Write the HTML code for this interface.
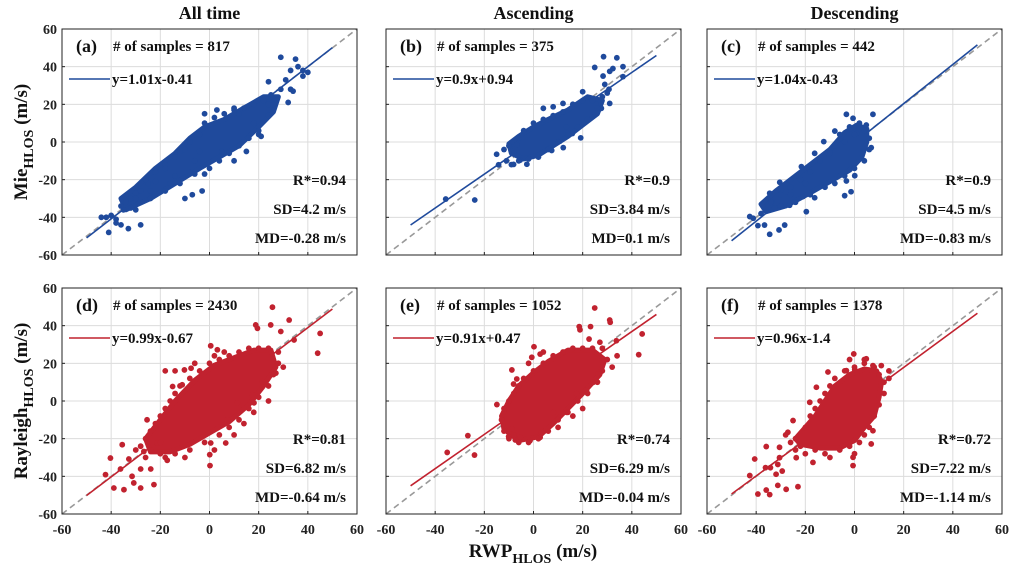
<!DOCTYPE html>
<html><head><meta charset="utf-8">
<style>
html,body{margin:0;padding:0;background:#fff;}
svg{display:block;font-family:"Liberation Serif",serif;font-weight:bold;}
</style></head>
<body>
<svg id="fig" width="1010" height="572" viewBox="0 0 1010 572" xmlns="http://www.w3.org/2000/svg"></svg>
<script>
// ---- Data (data units, m/s) ----
const tickValues = [-60,-40,-20,0,20,40,60];
const columnTitles = ["All time","Ascending","Descending"];
const panelLabels = ["(a)","(b)","(c)","(d)","(e)","(f)"];
const sampleCounts = [817,375,442,2430,1052,1378];
const fitSlopes = [1.01,0.9,1.04,0.99,0.91,0.96];
const fitIntercepts = [-0.41,0.94,-0.43,-0.67,0.47,-1.4];
const fitLabels = ["y=1.01x-0.41","y=0.9x+0.94","y=1.04x-0.43","y=0.99x-0.67","y=0.91x+0.47","y=0.96x-1.4"];
const rValues = ["0.94","0.9","0.9","0.81","0.74","0.72"];
const sdValues = ["4.2","3.84","4.5","6.82","6.29","7.22"];
const mdValues = ["-0.28","0.1","-0.83","-0.64","-0.04","-1.14"];

const coreA = [[-34,-36],[-24,-30],[-14,-22],[-4,-14],[4,-8],[12,-2],[20,8],[26,16],[28,24],[22,24],[14,18],[6,12],[-2,8],[-8,2],[-14,-6],[-22,-14],[-30,-24],[-36,-30]];
const pointsA = [[29,45],[35,44],[33,38],[36,40],[38,38],[40,37],[38,35],[34,27],[33,28],[29,28],[31,33],[24,32],[25,25],[32,21],[27,22],[-42,-40],[-40,-39],[-38,-41],[-36,-44],[-41,-48],[-33,-46],[-28,-44],[-38,-43],[-30,-36],[-32,-30],[-30,-27],[-22,-21],[-25,-22],[-32,-35],[-10,-30],[-7,-28],[-3,-26],[-2,-17],[-18,-12],[-12,-5],[-2,15],[3,17],[5,-5],[10,-10],[15,-5],[20,4],[21,3],[18,10],[12,15],[24,20],[10,18],[-6,-10],[-4,-5],[-8,-16],[-14,-18],[-16,-22],[-24,-26],[-35,-36],[-44,-40]];
const edgeA = [[-26,-20],[-22,-16],[-18,-14],[-14,-8],[-10,-4],[-8,0],[-4,4],[-2,10],[2,13],[6,15],[10,17],[14,18],[18,20],[22,22],[-24,-30],[-18,-26],[-12,-22],[-6,-17],[0,-14],[4,-10],[8,-6],[12,-2],[16,2],[20,6],[24,14],[26,20],[-34,-32],[-30,-30],[-36,-34],[-28,-26]];
const coreB = [[-9,-6],[-4,-9],[2,-7],[8,-2],[14,3],[20,9],[26,15],[28,22],[22,24],[14,17],[6,12],[0,8],[-6,3],[-10,-1]];
const pointsB = [[28.5,45.3],[33.9,44.7],[36.4,40],[32.3,39],[31,37.5],[36.4,34.7],[24.9,39.6],[28.3,35],[29,30.6],[30.7,28],[20,26.7],[31,20.5],[27.6,17.9],[4,17.9],[8,18.7],[12,20.5],[13.4,8],[15.8,4.5],[19.2,2.2],[10.8,0.5],[12.1,-3],[7.4,-4.5],[-15,-6.5],[-14.2,-12.1],[-8.1,-11.9],[-5.4,-9.6],[-2.7,-11.8],[-6.8,-1.5],[-35.7,-30.3],[-23.9,-30.8]];
const edgeB = [[-8,-6],[-10,-2],[-6,2],[-4,6],[0,10],[4,12],[8,14],[12,16],[16,20],[20,22],[24,22],[26,18],[22,12],[18,8],[14,4],[10,0],[6,-4],[2,-8],[-2,-9],[-6,-10],[-12,-4],[-9,-12],[-11,-10],[28,24],[30,26]];
const coreC = [[-36,-37],[-28,-34],[-18,-27],[-10,-21],[-2,-15],[3,-8],[5,0],[5,7],[1,9],[-4,5],[-10,-4],[-16,-10],[-24,-18],[-32,-26],[-38,-33]];
const pointsC = [[-3.3,14.7],[-0.6,12.6],[7.5,14.7],[4.8,9],[-8,5.8],[0.8,4.5],[6.8,-3],[-12.5,0.2],[-16.2,-6],[-21.6,-13.1],[-16.2,-29.6],[-4,-28.5],[-1.4,-26.4],[0.1,-17.9],[-3.3,-20.7],[-30.4,-21.4],[-34.5,-27.2],[-33.8,-31.6],[-42.6,-39.6],[-41.2,-40.5],[-39.3,-44.4],[-36.6,-44.1],[-34.5,-49],[-30.7,-46.7],[-28.4,-44.1],[-32.5,-35],[-26.4,-33.6],[-27.8,-26.4],[-21,-29],[-19.6,-37]];
const edgeC = [[-36,-36],[-34,-32],[-30,-28],[-26,-24],[-22,-20],[-18,-16],[-14,-10],[-10,-6],[-8,-2],[-6,4],[-2,8],[2,10],[4,6],[6,2],[6,-4],[4,-10],[0,-14],[-4,-18],[-8,-22],[-12,-24],[-18,-28],[-24,-32],[-30,-34],[-38,-38],[-26,-28],[-20,-22],[-4,0],[0,4]];
const coreD = [[-24,-27],[-16,-27],[-8,-23],[0,-17],[8,-11],[16,-2],[22,8],[27,18],[25,27],[18,27],[10,23],[2,19],[-6,11],[-14,0],[-20,-10],[-26,-20]];
const pointsD = [[25.6,49.8],[18.8,40.4],[19.5,38.6],[24.9,40.4],[29,36.9],[32.4,43],[34.4,32.4],[44,25.4],[45,35.9],[27,14.8],[21.5,10.4],[17.4,3.3],[18.1,-1],[11.3,-1],[7.3,-10],[0.5,-22.3],[0.1,-28.5],[0.2,-34.3],[6.6,-22.3],[-11.1,8.6],[-15,7.7],[-10.2,16.5],[-7.5,17.4],[0.5,29.3],[3.2,27.2],[-25.4,-10],[-21.3,-22.3],[-17.2,-31.5],[-40.3,-30.3],[-35.5,-23.2],[-42.3,-39.1],[-38.9,-46.2],[-34.8,-47.1],[-31.5,-40],[-28,-46.2],[-22.6,-44.4],[-30.8,-43.5],[-32.8,-30.8],[-36.2,-36.1],[-23.9,-36.1],[-28,-36.1],[-26.7,-26.8]];
const edgeD = [[-24,-26],[-20,-28],[-14,-28],[-8,-26],[-2,-22],[4,-18],[8,-14],[12,-10],[16,-4],[20,2],[24,8],[26,14],[28,20],[28,26],[24,28],[20,28],[16,28],[12,26],[8,24],[4,22],[0,20],[-4,16],[-8,12],[-12,8],[-14,4],[-16,0],[-18,-4],[-20,-8],[-22,-12],[-24,-16],[-26,-20],[-28,-24],[-18,-30],[-10,-30],[2,-26],[-14,16],[-18,16],[6,26],[-20,-22],[14,-12],[18,-6],[24,0],[30,18],[-6,20],[2,24],[10,-18],[-26,-30],[-30,-26]];
const coreE = [[-12,-15],[-6,-21],[2,-19],[8,-12],[14,-4],[20,4],[27,14],[29,22],[24,27],[14,27],[6,21],[0,15],[-6,8],[-10,0],[-13,-8]];
const pointsE = [[24.9,49.4],[31,43],[31.2,41.8],[23.2,39.5],[18.6,39.5],[18.9,37.8],[22.6,32.9],[27,31.2],[33.7,32],[44.2,35.6],[42.8,24.6],[26.3,14.3],[24.3,9.9],[21.6,5.8],[17.5,4.1],[13.5,-6],[8.1,-6],[3.3,-16.6],[2.7,-19.3],[-1.4,-21],[-5.4,-19.3],[-7.4,-20.7],[-10.1,-18.9],[-8.8,-14.8],[-14.9,-1.9],[-8.8,16.5],[-6.8,11.7],[-8.1,9],[0.2,28.8],[-0.7,23.2],[2.7,24.9],[-35.1,-27.3],[-26.7,-18.4],[-24,-28.7]];
const edgeE = [[-12,-16],[-10,-20],[-6,-22],[-2,-22],[2,-20],[6,-16],[10,-10],[14,-6],[18,0],[22,4],[26,10],[28,16],[30,22],[28,28],[24,28],[20,28],[16,28],[12,26],[8,24],[4,20],[0,16],[-4,12],[-6,8],[-8,4],[-10,0],[-12,-4],[-13,-10],[-8,-18],[16,-8],[20,-4],[10,-14],[-2,20],[4,26],[32,18],[34,24]];
const coreF = [[-22,-23],[-14,-25],[-6,-25],[0,-21],[4,-14],[8,-8],[10,2],[11,10],[9,16],[4,17],[-2,14],[-8,8],[-12,0],[-16,-8],[-20,-14],[-24,-20]];
const pointsF = [[-0.3,25],[4.8,22.4],[7.5,18.8],[10.9,18.8],[0.1,16.6],[-3.3,16.1],[-10.8,15.4],[-15.5,7.3],[-18.2,-0.7],[-25,-10.4],[-27.1,-16.6],[-35.9,-24.2],[-30.5,-24.6],[-40.6,-30.8],[-30.5,-30.1],[-23.7,-30.1],[-34.2,-35.4],[-29.4,-37.2],[-42.6,-39.6],[-39.3,-49.4],[-35.9,-47.3],[-34.5,-49.7],[-31.2,-44.8],[-27.8,-46.9],[-23,-45.5],[-36.2,-35.4],[-31.9,-38.9],[-0.6,-29.9],[-0.6,-34.3],[6.8,-22.8],[7.5,-15.8],[-16.9,-32.6],[-31.2,-33.7]];
const edgeF = [[-22,-24],[-24,-20],[-20,-14],[-18,-8],[-16,-4],[-14,0],[-12,4],[-10,8],[-8,12],[-4,16],[0,18],[4,20],[8,18],[10,14],[12,10],[12,4],[10,-2],[8,-8],[6,-14],[4,-18],[2,-22],[-2,-24],[-6,-26],[-12,-28],[-16,-26],[-20,-28],[-26,-22],[-28,-18],[-24,-26],[14,12],[14,16],[-2,22],[4,22],[-10,-30],[0,-28]];

const cores = [coreA,coreB,coreC,coreD,coreE,coreF];
const points = [pointsA.concat(edgeA),pointsB.concat(edgeB),pointsC.concat(edgeC),pointsD.concat(edgeD),pointsE.concat(edgeE),pointsF.concat(edgeF)];

const NS = "http://www.w3.org/2000/svg";
const svg = document.getElementById('fig');
function mk(tag, attrs, parent){
  const e = document.createElementNS(NS, tag);
  for (const k in attrs) e.setAttribute(k, attrs[k]);
  (parent||svg).appendChild(e);
  return e;
}
const colX = [62, 386, 707];
const rowY = [29, 288];
const PW = 295, PH = 226;
const colors = ["#1f4a9c","#1f4a9c","#1f4a9c","#c1222f","#c1222f","#c1222f"];

for (let p = 0; p < 6; p++) {
  const col = p % 3, row = Math.floor(p / 3);
  const x0 = colX[col], y0 = rowY[row];
  const sx = v => x0 + (v + 60) / 120 * PW;
  const sy = v => y0 + PH - (v + 60) / 120 * PH;
  const g = mk('g', {});
  
  
  const clipId = 'clip' + p;
  const cp = mk('clipPath', {id: clipId}, g);
  mk('rect', {x: x0, y: y0, width: PW, height: PH}, cp);
  tickValues.forEach(t => {
    if (t > -60 && t < 60) {
      const gl = mk('line', {x1: sx(t), x2: sx(t), y1: y0, y2: y0 + PH, stroke: '#dcdcdc', 'stroke-width': 1}, g);
      
      
      const gh = mk('line', {x1: x0, x2: x0 + PW, y1: sy(t), y2: sy(t), stroke: '#dcdcdc', 'stroke-width': 1}, g);
      
      
    }
  });
  const dg = mk('g', {'clip-path': 'url(#' + clipId + ')'}, g);
  const one = mk('line', {x1: sx(-60), y1: sy(-60), x2: sx(60), y2: sy(60), stroke: '#999', 'stroke-width': 1.6, 'stroke-dasharray': '6,4'}, dg);
  
  
  const a = fitSlopes[p], b = fitIntercepts[p];
  const fit = mk('line', {x1: sx(-50), y1: sy(a * -50 + b), x2: sx(50), y2: sy(a * 50 + b), stroke: colors[p], 'stroke-width': 1.6}, dg);
  
  
  const core = mk('polygon', {points: cores[p].map(d => sx(d[0]) + ',' + sy(d[1])).join(' '), fill: colors[p], stroke: colors[p], 'stroke-width': 5, 'stroke-linejoin': 'round'}, dg);
  
  
  points[p].forEach(d => {
    const c = mk('circle', {cx: sx(d[0]), cy: sy(d[1]), r: 2.9, fill: colors[p]}, dg);
    
    
  });
  const fr = mk('rect', {x: x0, y: y0, width: PW, height: PH, fill: 'none', stroke: '#222', 'stroke-width': 1}, g);
  
  
  tickValues.forEach(t => {
    mk('line', {x1: sx(t), x2: sx(t), y1: y0 + PH, y2: y0 + PH - 3, stroke: '#222'}, g);
    mk('line', {x1: x0, x2: x0 + 3, y1: sy(t), y2: sy(t), stroke: '#222'}, g);
    if (col === 0) {
      const yl = mk('text', {x: x0 - 5, y: sy(t) + 5, 'text-anchor': 'end', 'font-size': 14, fill: '#222'}, g);
      yl.textContent = t;
      
      
    }
    if (row === 1) {
      const xl = mk('text', {x: sx(t), y: y0 + PH + 20, 'text-anchor': 'middle', 'font-size': 14, fill: '#222'}, g);
      xl.textContent = t;
      
      
    }
  });
  const pl = mk('text', {x: x0 + 14, y: y0 + 23, 'font-size': 18, fill: '#111'}, g);
  pl.textContent = panelLabels[p];
  
  
  const ns = mk('text', {x: x0 + 51, y: y0 + 22, 'font-size': 15, fill: '#111'}, g);
  ns.textContent = '# of samples = ' + sampleCounts[p];
  
  
  const ll = mk('line', {x1: x0 + 7, x2: x0 + 48, y1: y0 + 50, y2: y0 + 50, stroke: colors[p], 'stroke-width': 1.6}, g);
  
  
  const lt = mk('text', {x: x0 + 50, y: y0 + 55, 'font-size': 15, fill: '#111'}, g);
  lt.textContent = fitLabels[p];
  
  
  const stats = ['R*=' + rValues[p], 'SD=' + sdValues[p] + ' m/s', 'MD=' + mdValues[p] + ' m/s'];
  const names = ['r-value','sd-value','md-value'];
  stats.forEach((s, i) => {
    const st = mk('text', {x: x0 + PW - 11, y: y0 + 156 + i * 29, 'text-anchor': 'end', 'font-size': 15, fill: '#111'}, g);
    st.textContent = s;
    
    
  });
}
columnTitles.forEach((t, i) => {
  const ct = mk('text', {x: colX[i] + PW / 2, y: 19, 'text-anchor': 'middle', 'font-size': 18, fill: '#111'});
  ct.textContent = t;
  
  
});
</script>
<svg width="1010" height="572" style="position:absolute;left:0;top:0" xmlns="http://www.w3.org/2000/svg">
  <text transform="translate(27,142) rotate(-90)" text-anchor="middle" font-family="Liberation Serif, serif" font-weight="bold" font-size="19" fill="#111">Mie<tspan font-size="14" dy="6">HLOS</tspan><tspan dy="-6"> (m/s)</tspan></text>
  <text transform="translate(27,401) rotate(-90)" text-anchor="middle" font-family="Liberation Serif, serif" font-weight="bold" font-size="19" fill="#111">Rayleigh<tspan font-size="14" dy="6">HLOS</tspan><tspan dy="-6"> (m/s)</tspan></text>
  <text x="533" y="557" text-anchor="middle" font-family="Liberation Serif, serif" font-weight="bold" font-size="19" fill="#111">RWP<tspan font-size="14" dy="6">HLOS</tspan><tspan dy="-6"> (m/s)</tspan></text>
</svg>
</body></html>
